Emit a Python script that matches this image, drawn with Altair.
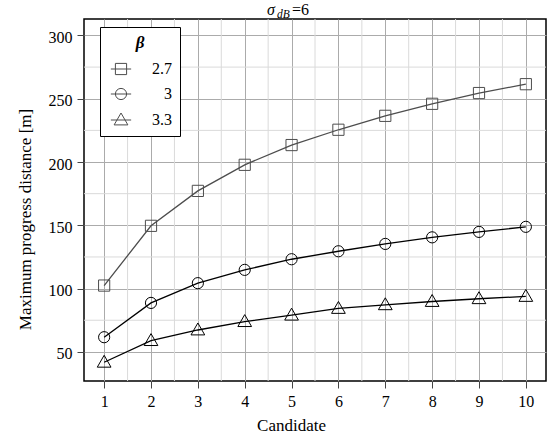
import altair as alt
import pandas as pd

candidates = list(range(1, 11))
beta_labels = ["2.7", "3", "3.3"]
beta_27 = [102.4, 149.6, 177.2, 197.8, 213.4, 225.5, 236.5, 246, 254.5, 261.5]
beta_30 = [61.6, 88.7, 104.3, 114.8, 123.2, 129.5, 135.3, 140.5, 144.8, 148.8]
beta_33 = [41.8, 58.9, 67.3, 73.9, 79, 84.3, 87.2, 89.8, 92, 93.8]

x_major = list(range(1, 11))
x_minor = [1.5, 2.5, 3.5, 4.5, 5.5, 6.5, 7.5, 8.5, 9.5]
y_major = [50, 100, 150, 200, 250, 300]
y_minor = [75, 125, 175, 225, 275]

title_parts = ["σ", "dB", "=6"]

FONT = "Liberation Serif"

rows = []
for lab, vals in zip(beta_labels, [beta_27, beta_30, beta_33]):
    for c, v in zip(candidates, vals):
        rows.append({"candidate": c, "value": v, "beta": lab})
df = pd.DataFrame(rows)

# marker paths (unit box -1..1)
sq = "M-0.8,-0.8H0.8V0.8H-0.8Z"
circ = "M0.8,0A0.8,0.8,0,1,1,-0.8,0A0.8,0.8,0,1,1,0.8,0Z"
tri = "M0,-1.0L0.98,0.7L-0.98,0.7Z"
stub = "M-1.45,0H1.45"
plot_shapes = [sq, circ, tri]
legend_shapes = [stub + s for s in plot_shapes]
series_colors = ["#4d4d4d", "#000000", "#000000"]

xs = alt.Scale(domain=[0.57, 10.43], nice=False, zero=False)
ys = alt.Scale(domain=[27, 313], nice=False, zero=False)

x_enc = alt.X("candidate:Q", scale=xs,
              axis=alt.Axis(values=x_major, title="Candidate", grid=True,
                            labelFont=FONT, titleFont=FONT, titleX=207))
y_enc = alt.Y("value:Q", scale=ys,
              axis=alt.Axis(values=y_major, title="Maximum progress distance [m]", grid=True,
                            labelFont=FONT, titleFont=FONT, titleY=200))

minor_x = alt.Chart(pd.DataFrame({"xm": x_minor})).mark_rule(
    color="#dadada", strokeWidth=1).encode(x=alt.X("xm:Q", scale=xs))
minor_y = alt.Chart(pd.DataFrame({"ym": y_minor})).mark_rule(
    color="#dadada", strokeWidth=1).encode(y=alt.Y("ym:Q", scale=ys))

base = alt.Chart(df)

lines = base.mark_line(strokeWidth=1.3).encode(
    x=x_enc, y=y_enc,
    color=alt.Color("beta:N", scale=alt.Scale(domain=beta_labels, range=series_colors), legend=None),
    detail="beta:N",
)

points = base.mark_point(filled=False, size=196, strokeWidth=1, opacity=1).encode(
    x=x_enc, y=y_enc,
    stroke=alt.Stroke("beta:N", scale=alt.Scale(domain=beta_labels, range=series_colors), legend=None),
    shape=alt.Shape("beta:N", scale=alt.Scale(domain=beta_labels, range=plot_shapes), legend=None),
)

legend_layer = base.transform_filter("false").mark_point(
    filled=False, size=196, strokeWidth=1, color="black").encode(
    x=x_enc, y=y_enc,
    shape=alt.Shape("beta:N", scale=alt.Scale(domain=beta_labels, range=legend_shapes),
                    legend=alt.Legend(
                        title="β", orient="none", legendX=16, legendY=8,
                        direction="vertical",
                        fillColor="white", strokeColor="black",
                        padding=8,
                        titleFont=FONT, titleFontSize=17, titleFontStyle="italic",
                        titleFontWeight="bold", titleAnchor="middle", titleColor="black",
                        titlePadding=9,
                        labelFont=FONT, labelFontSize=16, labelColor="black",
                        labelAlign="right", labelOffset=43,
                        symbolOffset=5, symbolSize=196, symbolStrokeColor="black",
                        symbolStrokeWidth=1, symbolFillColor="transparent",
                        rowPadding=9,
                    )),
)

tdf = pd.DataFrame({"t": title_parts, "k": [0, 1, 2]})
t_sigma = alt.Chart(tdf).transform_filter("datum.k == 0").mark_text(
    font=FONT, fontSize=16, fontStyle="italic", align="left", baseline="alphabetic", color="black"
).encode(text="t:N", x=alt.value(183), y=alt.value(-4))
t_sub = alt.Chart(tdf).transform_filter("datum.k == 1").mark_text(
    font=FONT, fontSize=11.5, fontStyle="italic", align="left", baseline="alphabetic", color="black"
).encode(text="t:N", x=alt.value(193), y=alt.value(-1))
t_eq = alt.Chart(tdf).transform_filter("datum.k == 2").mark_text(
    font=FONT, fontSize=16, align="left", baseline="alphabetic", color="black"
).encode(text="t:N", x=alt.value(208), y=alt.value(-4))

chart = alt.layer(
    minor_x, minor_y, lines, points, legend_layer, t_sigma, t_sub, t_eq
).resolve_scale(shape="independent").properties(
    width=462, height=362,
    padding={"left": 84, "top": 19, "right": 6, "bottom": 57},
    autosize=alt.AutoSizeParams(type="none"),
).configure_view(
    stroke="black", strokeWidth=1.5
).configure_legend(
    strokeWidth=1, cornerRadius=0,
).configure_axis(
    domain=False,
    gridColor="#ababab", gridWidth=1,
    tickColor="#444444", tickSize=7, tickWidth=1,
    labelFont=FONT, labelFontSize=16, labelColor="black",
    titleFont=FONT, titleFontSize=17, titleFontWeight="normal", titleColor="black",
).configure_axisX(
    labelPadding=5, titlePadding=8,
).configure_axisY(
    labelPadding=5, titlePadding=14, labelOffset=2,
)

chart.save("out.html", embed_options={"renderer": "svg", "actions": False})
